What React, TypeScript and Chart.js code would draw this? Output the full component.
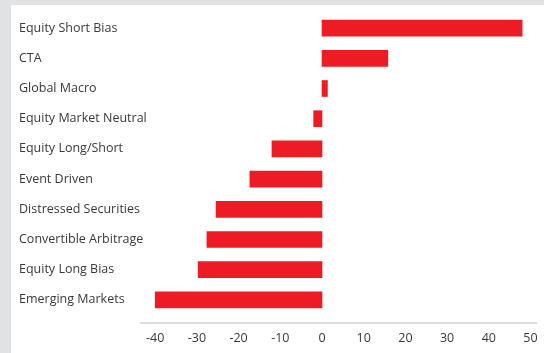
import { useEffect, useRef } from 'react';
import { Chart, registerables } from 'chart.js';

Chart.register(...registerables);

const categories = [
  'Equity Short Bias',
  'CTA',
  'Global Macro',
  'Equity Market Neutral',
  'Equity Long/Short',
  'Event Driven',
  'Distressed Securities',
  'Convertible Arbitrage',
  'Equity Long Bias',
  'Emerging Markets',
];

const values = [48.0, 15.8, 1.3, -2.0, -12.0, -17.3, -25.4, -27.6, -29.7, -40.0];

const tickValues = [-40, -30, -20, -10, 0, 10, 20, 30, 40, 50];

const FONT = 'Open Sans';
const TEXT = '#3a3a3a';

export default function App() {
  const ref = useRef<HTMLCanvasElement>(null);

  useEffect(() => {
    document.body.style.margin = '0';
    const bg = {
      id: 'bg',
      beforeDraw(chart: any) {
        const { ctx, width, height } = chart;
        ctx.save();
        ctx.fillStyle = '#e1e2e4';
        ctx.fillRect(0, 0, width, height);
        ctx.fillStyle = '#ffffff';
        ctx.fillRect(11, 5, width - 11, height - 5);
        ctx.restore();
      },
    };
    const axisLine = {
      id: 'axisLine',
      afterDraw(chart: any) {
        const { ctx, chartArea } = chart;
        ctx.save();
        ctx.strokeStyle = '#dcdcdc';
        ctx.lineWidth = 2;
        ctx.beginPath();
        ctx.moveTo(chartArea.left - 10, chartArea.bottom + 8);
        ctx.lineTo(chartArea.right, chartArea.bottom + 8);
        ctx.stroke();
        ctx.restore();
      },
    };
    const chart = new Chart(ref.current as HTMLCanvasElement, {
      type: 'bar',
      data: {
        labels: categories,
        datasets: [
          {
            data: values,
            backgroundColor: '#ed1c24',
            barThickness: 16,
          },
        ],
      },
      options: {
        indexAxis: 'y',
        animation: false,
        responsive: false,
        layout: { padding: { left: 19, top: 13, right: 7, bottom: 0 } },
        plugins: { legend: { display: false }, tooltip: { enabled: false } },
        scales: {
          x: {
            min: -41.25,
            max: 51.56,
            afterBuildTicks: (s: any) => {
              s.ticks = tickValues.map((v) => ({ value: v }));
            },
            afterFit: (s: any) => {
              s.height = 38;
              s.paddingLeft = 0;
              s.paddingRight = 0;
              s.paddingTop = 0;
              s.paddingBottom = 0;
            },
            grid: { display: false, drawTicks: false },
            border: { display: false },
            ticks: { padding: 15.5, color: TEXT, font: { family: FONT, size: 12.5 } },
          },
          y: {
            grid: { display: false },
            border: { display: false },
            afterFit: (s: any) => {
              s.width = 131;
              s.paddingTop = 0;
              s.paddingBottom = 0;
            },
            ticks: {
              crossAlign: 'far',
              padding: 0,
              autoSkip: false,
              color: TEXT,
              font: { family: FONT, size: 12.5 },
            },
          },
        },
      },
      plugins: [bg, axisLine],
    });
    return () => chart.destroy();
  }, []);

  return <canvas ref={ref} width={544} height={353} style={{ display: 'block' }} />;
}
